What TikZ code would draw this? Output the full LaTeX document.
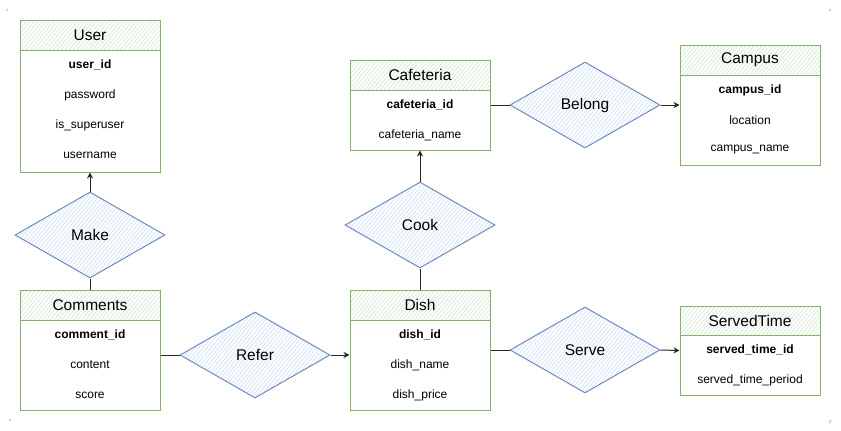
\documentclass[tikz,border=0pt]{standalone}
\usepackage{fontspec}
\setmainfont{Liberation Sans}
\usetikzlibrary{shapes.geometric,arrows.meta,patterns.meta}
\definecolor{gstroke}{HTML}{82B366}
\definecolor{gfill}{HTML}{C9E3C6}
\definecolor{bstroke}{HTML}{6C8EBF}
\definecolor{bfill}{HTML}{C4DAF7}
\tikzset{
  tablebox/.style={draw=gstroke, line width=1pt, fill=white, minimum width=140pt, inner sep=0pt},
  headbox/.style={draw=gstroke, line width=1pt, minimum width=140pt, minimum height=30pt, inner sep=0pt,
    pattern={Lines[angle=50,distance=3pt,line width=0.5pt]}, pattern color=gfill,
    font=\fontsize{15.5}{18}\selectfont},
  keyrow/.style={font=\fontsize{12}{14}\selectfont\bfseries, inner sep=0pt},
  row/.style={font=\fontsize{12}{14}\selectfont, inner sep=0pt},
  relbox/.style={diamond, draw=bstroke, line width=1pt, minimum width=150pt, minimum height=86pt, inner sep=0pt,
    pattern={Lines[angle=50,distance=3pt,line width=0.5pt]}, pattern color=bfill,
    font=\fontsize{15.5}{18}\selectfont},
  conn/.style={draw=black!85, line width=1pt},
  arr/.style={conn, -{Stealth[length=6pt,width=6pt]}},
  cornermark/.style={draw=black!40, line width=0.6pt},
}
\begin{document}
\begin{tikzpicture}[x=1pt,y=-1pt]
\useasboundingbox (0,0) rectangle (841,431);
\fill[white] (0,0) rectangle (841,431);
% corner marks
\draw[cornermark] (6,11) -- (8,9);
\draw[cornermark] (829,11) -- (831,9);
\draw[cornermark] (9,421) -- (11,419);
\draw[cornermark] (829,423) -- (831,420);

% User
\node[tablebox, minimum height=152pt] (user) at (90,96) {};
\node[headbox] (userh) at (90,35) {User};
\node[keyrow] (u1) at (90,65) {user\_id};
\node[row] (u2) at (90,95) {password};
\node[row] (u3) at (90,125) {is\_superuser};
\node[row] (u4) at (90,155) {username};

% Comments
\node[tablebox, minimum height=120pt] (comments) at (90,350) {};
\node[headbox] (commentsh) at (90,305) {Comments};
\node[keyrow] (c1) at (90,335) {comment\_id};
\node[row] (c2) at (90,365) {content};
\node[row] (c3) at (90,395) {score};

% Dish
\node[tablebox, minimum height=120pt] (dish) at (420,350) {};
\node[headbox] (dishh) at (420,305) {Dish};
\node[keyrow] (d1) at (420,335) {dish\_id};
\node[row] (d2) at (420,365) {dish\_name};
\node[row] (d3) at (420,395) {dish\_price};

% Cafeteria
\node[tablebox, minimum height=90pt] (cafeteria) at (420,105) {};
\node[headbox] (cafeteriah) at (420,75) {Cafeteria};
\node[keyrow] (f1) at (420,105) {cafeteria\_id};
\node[row] (f2) at (420,135) {cafeteria\_name};

% Campus
\node[tablebox, minimum height=120pt] (campus) at (750,105) {};
\node[headbox] (campush) at (750,60) {Campus};
\node[keyrow] (p1) at (750,90) {campus\_id};
\node[row] (p2) at (750,120) {location};
\node[row] (p3) at (750,150) {campus\_name};

% ServedTime
\node[tablebox, minimum height=89pt] (served) at (750,350.5) {};
\node[headbox, minimum height=29pt] (servedh) at (750,320.5) {ServedTime};
\node[keyrow] (s1) at (750,350) {served\_time\_id};
\node[row] (s2) at (750,380) {served\_time\_period};

% Relationships
\node[relbox] (make) at (90,235) {Make};
\node[relbox] (refer) at (255,355) {Refer};
\node[relbox] (cook) at (420,225) {Cook};
\node[relbox] (belong) at (585,105) {Belong};
\node[relbox] (serve) at (585,350) {Serve};

% Connectors
\draw[arr] (make.north) -- (user.south);
\draw[conn] (comments.north) -- (make.south);
\draw[conn] (refer.west -| comments.east) -- (refer.west);
\draw[arr] (refer.east) -- (refer.east -| dish.west);
\draw[conn] (dish.north) -- (cook.south);
\draw[arr] (cook.north) -- (cafeteria.south);
\draw[conn] (cafeteria.east) -- (belong.west);
\draw[arr] (belong.east) -- (campus.west);
\draw[conn] (dish.east) -- (serve.west);
\draw[arr] (serve.east) -- (served.west);
\end{tikzpicture}
\end{document}
